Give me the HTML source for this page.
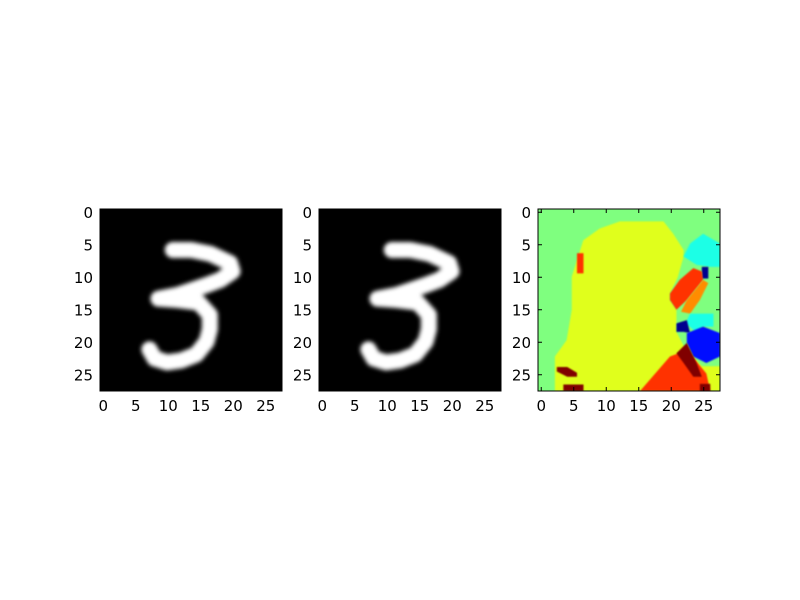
<!DOCTYPE html>
<html><head><meta charset="utf-8"><style>
html,body{margin:0;padding:0;background:#fff;}
svg{display:block;font-family:"DejaVu Sans","Liberation Sans",sans-serif;}
</style></head><body>
<svg id="chart" width="800" height="600" viewBox="0 0 800 600">
<defs>
<filter id="blur" x="-20%" y="-20%" width="140%" height="140%"><feGaussianBlur stdDeviation="2.2"/></filter>
<filter id="blur2" x="-20%" y="-20%" width="140%" height="140%"><feGaussianBlur stdDeviation="0.8"/></filter>
<clipPath id="clip0"><rect x="100" y="209" width="182" height="182"/></clipPath>
<clipPath id="clip1"><rect x="319" y="209" width="182" height="182"/></clipPath>
<clipPath id="clip2"><rect x="538" y="209" width="182" height="182"/></clipPath>
</defs>
</svg>
<script>
const ticks=[0,5,10,15,20,25];
const tickLabels=["0","5","10","15","20","25"];
const digitStroke=[[11.2,6.3],[14,6.3],[17,6.9],[20.0,8.3],[20.4,9.6],[18.5,10.9],[16.4,11.7],[12,13.2],[9.0,13.8],[12,14.0],[15.2,14.4],[16.9,16.3],[16.9,18.5],[16.4,20.4],[14.8,22.4],[12.5,23.3],[10.3,23.6],[8.4,23.0],[7.6,21.6]];
const digitDot=[[6.4,5.4],[6.4,6.4]];
const segBackground="#7fff7f";
const segRegions=[
 {name:"yellow-region",color:"#e0ff1a",pts:[[12.6,1.9],[19.3,1.9],[20.8,3.8],[22.4,6.3],[22.4,7.3],[21.5,10.5],[20.3,13],[20.3,14],[21.3,15.5],[21.3,17.6],[21.3,18.9],[22.4,21],[22.9,21.7],[25.2,24.2],[28,24.2],[28,28],[2.6,28],[2.6,22.7],[4.4,20.2],[5.2,15.5],[5.2,10.4],[6.97,4.8],[9.5,3]]},
 {name:"cyan-top-region",color:"#1affe6",pts:[[22.4,7.3],[23.4,5.3],[25.4,3.8],[28,5.3],[28,8.9],[26.5,8.9],[24.4,8.6]]},
 {name:"navy-top-region",color:"#00008f",pts:[[25.2,8.9],[26.2,8.9],[26.2,10.7],[25.2,10.7]]},
 {name:"red-diagonal-region",color:"#ff3000",pts:[[20.3,14],[20.3,13],[21.8,10.9],[23.9,9.1],[25.2,9.6],[25.4,10.9],[22.9,14],[21.3,15.5]]},
 {name:"orange-region",color:"#ff8c00",pts:[[22.9,14],[25.4,10.9],[26.2,11.4],[24.9,14],[23.4,16.1],[22,15.8]]},
 {name:"cyan-lower-region",color:"#1affe6",pts:[[23.4,16.1],[27,16.1],[27,18.1],[25.4,18.1],[24.3,18.9],[22.7,17.6]]},
 {name:"navy-lower-region",color:"#00008f",pts:[[21.3,17.6],[22.9,17.1],[23.4,19.1],[22.4,18.9],[21.3,18.9]]},
 {name:"blue-region",color:"#0010ff",pts:[[22.9,19.1],[25.4,18.1],[28,19.1],[28,22.7],[25.9,23.7],[23.9,22.7],[22.9,20.6]]},
 {name:"red-bottom-region",color:"#ff3000",pts:[[15.7,28],[20.3,22.7],[22.9,21.7],[25.9,25.3],[26.5,28]]},
 {name:"maroon-right-region",color:"#800000",pts:[[21.3,22.2],[22.9,20.6],[24.4,23.7],[25.2,25.8],[23.9,25.8],[22.4,23.7]]},
 {name:"maroon-corner-region",color:"#800000",pts:[[24.9,26.9],[26.5,26.9],[26.5,28],[24.9,28]]},
 {name:"maroon-left-region",color:"#800000",pts:[[2.9,24.3],[4.5,24.3],[6,25.2],[6,25.8],[4.5,25.8],[2.9,25]]},
 {name:"maroon-bottom-left-region",color:"#800000",pts:[[3.9,27],[7,27],[7,28],[3.9,28]]},
 {name:"red-small-region",color:"#ff3000",pts:[[6,6.8],[7,6.8],[7,9.9],[6,9.9]]}
];
const NS="http://www.w3.org/2000/svg";
const svg=document.getElementById('chart');
const panels=[{x0:100,name:"original"},{x0:319,name:"reconstructed"},{x0:538,name:"segmentation"}];
const Y0=209,PX=6.5;
function mk(t,a,p){const e=document.createElementNS(NS,t);for(const k in a)e.setAttribute(k,a[k]);(p||svg).appendChild(e);return e;}
panels.forEach((p,i)=>{
 const sx=v=>p.x0+(v+0.5)*PX, sy=v=>Y0+(v+0.5)*PX;
 const ex=v=>p.x0+v*PX, ey=v=>Y0+v*PX;
 const g=mk('g',{'clip-path':`url(#clip${i})`});
 
 
 if(i<2){
  mk('rect',{x:p.x0,y:Y0,width:182,height:182,fill:'#000'},g);
  const pl=mk('polyline',{points:digitStroke.map(d=>ex(d[0])+','+ey(d[1])).join(' '),fill:'none',stroke:'#fff','stroke-width':16,'stroke-linecap':'round','stroke-linejoin':'round',filter:'url(#blur)'},g);
  
  
  const dt=mk('polyline',{points:digitDot.map(d=>ex(d[0])+','+ey(d[1])).join(' '),fill:'none',stroke:'#aaa','stroke-width':5,'stroke-linecap':'round',filter:'url(#blur2)'},g);
  
  
 } else {
  mk('rect',{x:p.x0,y:Y0,width:182,height:182,fill:segBackground},g);
  segRegions.forEach(r=>{
   const pg=mk('polygon',{points:r.pts.map(d=>ex(d[0])+','+ey(d[1])).join(' '),fill:r.color,filter:'url(#blur2)'},g);
   
   
  });
 }
 const fr=mk('rect',{x:p.x0,y:Y0,width:182,height:182,fill:'none',stroke:'#000','stroke-width':1});
 
 
 ticks.forEach((t,j)=>{
  const X=sx(t),Y=sy(t);
  mk('line',{x1:X,y1:Y0,x2:X,y2:Y0+4,stroke:'#000'});
  mk('line',{x1:X,y1:Y0+182,x2:X,y2:Y0+178,stroke:'#000'});
  mk('line',{x1:p.x0,y1:Y,x2:p.x0+4,y2:Y,stroke:'#000'});
  mk('line',{x1:p.x0+182,y1:Y,x2:p.x0+178,y2:Y,stroke:'#000'});
  const xl=mk('text',{x:X,y:411,'text-anchor':'middle','font-size':15,fill:'#000'});
  xl.textContent=tickLabels[j];
  
  
  const yl=mk('text',{x:p.x0-7,y:Y+5.5,'text-anchor':'end','font-size':15,fill:'#000'});
  yl.textContent=tickLabels[j];
  
  
 });
});
</script>
</body></html>
